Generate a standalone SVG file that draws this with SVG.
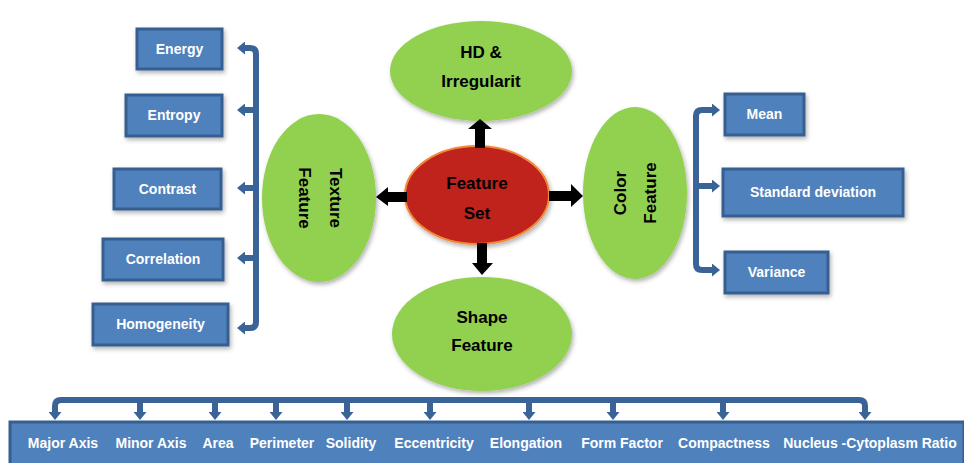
<svg xmlns="http://www.w3.org/2000/svg" width="964" height="463" viewBox="0 0 964 463">
<defs>
<style>
.box{fill:#4f81bd;stroke:#365f91;stroke-width:3;filter:url(#sh)}
.bl{font-family:"Liberation Sans",Arial,sans-serif;font-weight:bold;font-size:14px;fill:#fff;text-anchor:middle}
.green{fill:#92d050;filter:url(#sh)}
.el{font-family:"Liberation Sans",Arial,sans-serif;font-weight:bold;font-size:17px;fill:#000;text-anchor:middle}
.br{fill:none;stroke:#3a6398;stroke-width:6}
.bk{fill:#000}
</style>
<filter id="sh" x="-10%" y="-10%" width="125%" height="130%">
<feDropShadow dx="1.5" dy="2.5" stdDeviation="2" flood-color="#000" flood-opacity="0.3"/>
</filter>
<marker id="ah" viewBox="0 0 8 13" refX="0" refY="6.5" markerWidth="8" markerHeight="13" markerUnits="userSpaceOnUse" orient="auto-start-reverse">
<path d="M0,0 L8,6.5 L0,13 z" fill="#3a6398"/>
</marker>
</defs>
<rect width="964" height="463" fill="#fff"/>

<g id="energy"><rect class="box" x="137" y="29" width="85" height="40"/><text class="bl" x="179.5" y="54">Energy</text></g>
<g id="entropy"><rect class="box" x="126" y="95" width="96" height="41"/><text class="bl" x="174" y="120">Entropy</text></g>
<g id="contrast"><rect class="box" x="114" y="169" width="107" height="40"/><text class="bl" x="167.5" y="194">Contrast</text></g>
<g id="correlation"><rect class="box" x="103" y="239" width="120" height="41"/><text class="bl" x="163" y="264">Correlation</text></g>
<g id="homogeneity"><rect class="box" x="93" y="304" width="135" height="41"/><text class="bl" x="160.5" y="329">Homogeneity</text></g>

<g id="mean"><rect class="box" x="725" y="94" width="79" height="41"/><text class="bl" x="764.5" y="119">Mean</text></g>
<g id="stddev"><rect class="box" x="723" y="169" width="180" height="47"/><text class="bl" x="813" y="197">Standard deviation</text></g>
<g id="variance"><rect class="box" x="725" y="252" width="103" height="41"/><text class="bl" x="776.5" y="277">Variance</text></g>

<g id="hd"><ellipse class="green" cx="481" cy="71" rx="91" ry="50"/><text class="el" x="481" y="58">HD &amp;</text><text class="el" x="481" y="87">Irregularit</text></g>
<g id="texture"><ellipse class="green" cx="319" cy="198" rx="57" ry="84"/><g transform="translate(319,198) rotate(90)"><text class="el" x="0" y="-11">Texture</text><text class="el" x="0" y="20">Feature</text></g></g>
<g id="featureset"><ellipse cx="477" cy="195" rx="72" ry="49" fill="#c0201f" stroke="#f08a3a" stroke-width="2" filter="url(#sh)"/><text class="el" x="477" y="189">Feature</text><text class="el" x="477" y="219">Set</text></g>
<g id="color"><ellipse class="green" cx="635" cy="193" rx="52" ry="86"/><g transform="translate(635,193) rotate(-90)"><text class="el" x="0" y="-9">Color</text><text class="el" x="0" y="21">Feature</text></g></g>
<g id="shape"><ellipse class="green" cx="482" cy="334" rx="90" ry="57"/><text class="el" x="482" y="323">Shape</text><text class="el" x="482" y="351">Feature</text></g>

<g id="shapelist">
<rect x="10" y="422" width="954" height="50" fill="#4f81bd" stroke="#365f91" stroke-width="3"/>
<text class="bl" x="63" y="448">Major Axis</text>
<text class="bl" x="151" y="448">Minor Axis</text>
<text class="bl" x="218" y="448">Area</text>
<text class="bl" x="282" y="448">Perimeter</text>
<text class="bl" x="351" y="448">Solidity</text>
<text class="bl" x="434" y="448">Eccentricity</text>
<text class="bl" x="526" y="448">Elongation</text>
<text class="bl" x="622" y="448">Form Factor</text>
<text class="bl" x="724" y="448">Compactness</text>
<text class="bl" x="870" y="448">Nucleus -Cytoplasm Ratio</text>
</g>

<g id="connectors">
<polygon class="bk" points="475,148 475,129 468,129 480,119 492,129 485,129 485,148"/>
<polygon class="bk" points="407,192 388,192 388,187 376,197 388,206 388,202 407,202"/>
<polygon class="bk" points="549,191 571,191 571,184 583,196 571,207 571,201 549,201"/>
<polygon class="bk" points="477,243 477,263 472,263 482,275 493,263 487,263 487,243"/>

<path class="br" d="M245,48 L250,48 Q256,48 256,54 L256,322 Q256,328 250,328 L245,328" marker-start="url(#ah)" marker-end="url(#ah)"/>
<path class="br" d="M256,110 L245,110" marker-end="url(#ah)"/>
<path class="br" d="M256,188 L245,188" marker-end="url(#ah)"/>
<path class="br" d="M256,258 L245,258" marker-end="url(#ah)"/>

<path class="br" d="M712,110 L702,110 Q696,110 696,116 L696,264 Q696,270 702,270 L712,270" marker-start="url(#ah)" marker-end="url(#ah)"/>
<path class="br" d="M696,186 L712,186" marker-end="url(#ah)"/>

<path class="br" d="M55,412 L55,406 Q55,400 61,400 L859,400 Q865,400 865,406 L865,412" marker-start="url(#ah)" marker-end="url(#ah)"/>
<path class="br" d="M140,400 L140,412" marker-end="url(#ah)"/>
<path class="br" d="M215,400 L215,412" marker-end="url(#ah)"/>
<path class="br" d="M276,400 L276,412" marker-end="url(#ah)"/>
<path class="br" d="M347,400 L347,412" marker-end="url(#ah)"/>
<path class="br" d="M430,400 L430,412" marker-end="url(#ah)"/>
<path class="br" d="M529,400 L529,412" marker-end="url(#ah)"/>
<path class="br" d="M613,400 L613,412" marker-end="url(#ah)"/>
<path class="br" d="M723,400 L723,412" marker-end="url(#ah)"/>
</g>
</svg>
